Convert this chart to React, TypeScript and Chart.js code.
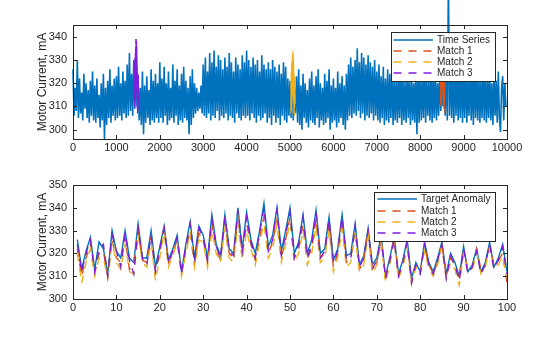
import { useEffect, useRef } from 'react';
import { Chart, registerables } from 'chart.js';

Chart.register(...registerables);

// ---------- data ----------
// Long time series (one value every 25 samples), motor current in mA
const timeSeriesStep = 25;
const timeSeries = [
  326,306,318,308,330,305,322,307,316,304,324,309,320,305,317,303,321,306,325,304,
  319,303,322,305,315,301,320,304,324,296,318,302,321,305,326,303,319,306,322,304,
  323,305,327,306,320,304,325,307,321,305,328,306,333,308,324,306,330,309,329,310,
  322,304,318,302,325,298,319,303,323,305,317,302,326,304,321,303,324,305,320,303,
  329,305,322,303,327,306,320,302,325,304,318,305,328,303,321,306,326,302,319,304,
  324,303,327,305,321,304,318,298,323,302,326,305,320,307,318,308,316,309,319,307,
  328,306,331,305,325,307,333,304,329,306,334,305,327,308,332,304,330,306,326,305,
  331,307,327,304,333,306,329,305,325,303,331,307,328,305,326,304,332,306,329,305,
  334,306,330,304,327,307,331,305,328,303,330,306,325,304,332,305,328,307,326,303,
  329,305,326,302,330,306,327,303,325,305,328,302,324,306,329,304,327,303,322,306,
  321,305,325,304,318,307,323,303,326,302,319,300,324,305,320,303,317,301,322,304,
  325,303,319,302,323,305,326,301,320,304,318,302,324,303,321,305,326,300,319,303,
  322,304,318,301,325,303,320,305,323,302,319,300,324,304,328,306,331,305,327,307,
  330,306,335,308,329,305,333,307,331,304,328,306,332,305,329,307,327,304,330,306,
  325,304,328,303,323,305,327,302,322,304,326,303,324,305,328,302,321,304,325,303,
  323,305,327,302,324,304,321,303,326,305,322,302,325,304,320,303,327,298,324,303,
  326,304,322,305,328,303,324,306,321,304,327,303,323,305,326,304,320,306,325,308,
  322,310,318,306,328,304,365,306,329,305,326,303,330,306,327,304,325,305,329,303,
  324,305,328,303,322,306,327,304,325,302,329,305,323,304,326,303,321,305,328,304,
  325,303,322,305,327,304,320,302,324,306,321,303,325,305,299,318,323,304,320,310,
];

// Start index of each match in the long series: Match 1, Match 2, Match 3
const matchStarts = [8470, 5020, 1410];

// 100-sample windows
const targetAnomaly = [
  326,313,321,327,313,325,322,311,330,321,
  318,330,318,316,333,318,318,330,314,323,
  332,317,322,328,312,324,334,318,332,328,
  318,337,324,319,337,322,320,340,322,338,
  326,320,330,342,323,328,340,321,330,340,
  320,325,337,320,326,339,320,322,336,317,
  322,337,319,320,333,315,319,331,315,318,
  328,310,318,327,311,317,326,309,316,312,
  325,316,312,318,325,311,320,316,310,323,
  312,315,322,312,316,325,314,318,324,312,
];
const match1 = [
  322,310,318,324,311,320,321,310,326,318,
  316,327,313,315,330,317,316,327,312,320,
  332,316,320,326,311,322,330,315,329,326,
  316,333,322,317,334,320,318,336,320,333,
  324,317,327,336,320,325,335,318,326,336,
  318,322,333,318,322,335,318,320,333,314,
  320,334,316,318,330,313,317,330,313,316,
  326,310,317,327,311,316,324,309,315,312,
  323,315,311,316,324,310,318,315,309,321,
  313,314,322,313,315,323,315,317,320,307,
];
const match2 = [
  320,307,316,322,310,318,318,309,325,316,
  313,324,312,311,328,316,314,325,308,318,
  329,314,319,325,310,320,329,314,326,325,
  314,330,320,316,331,318,316,333,317,330,
  322,315,325,333,318,322,333,316,324,334,
  316,320,330,315,320,332,316,318,330,312,
  318,331,314,316,328,312,315,328,311,315,
  325,307,315,325,309,314,322,307,314,311,
  321,313,310,315,323,309,316,313,306,320,
  312,313,320,311,314,322,313,315,319,309,
];
const match3 = [
  324,312,320,326,312,322,324,310,328,321,
  314,329,317,311,331,318,315,328,312,322,
  331,316,321,327,311,323,333,316,331,327,
  317,335,323,318,336,321,319,339,321,336,
  325,318,329,340,321,326,339,319,328,338,
  318,324,336,318,324,338,318,321,335,316,
  321,336,317,318,332,314,318,330,313,317,
  327,309,317,326,310,316,325,307,315,311,
  324,315,311,317,324,309,319,315,308,322,
  311,314,321,311,315,324,313,317,323,311,
];

const topLabels = ['Time Series', 'Match 1', 'Match 2', 'Match 3'];
const bottomLabels = ['Target Anomaly', 'Match 1', 'Match 2', 'Match 3'];
const yTitle = 'Motor Current, mA';

// ---------- styles ----------
const BLUE = '#0072BD';
const ORANGE = '#D95319';
const YELLOW = '#EDB120';
const PURPLE = '#7F1FD9';
const AXIS = '#262626';
const FONT = '"Liberation Sans", Arial, Helvetica, sans-serif';
const DASH = [8, 7];
const SERIES_COLORS = [BLUE, ORANGE, YELLOW, PURPLE];
const SERIES_DASHED = [false, true, true, true];

const axesBoxPlugin = {
  id: 'axesBox',
  afterDatasetsDraw(chart: any) {
    const { ctx, chartArea } = chart;
    const { left, right, top, bottom } = chartArea;
    const xs = chart.scales.x;
    const ys = chart.scales.y;
    const L = 4;
    ctx.save();
    ctx.strokeStyle = AXIS;
    ctx.lineWidth = 1;
    ctx.setLineDash([]);
    ctx.beginPath();
    xs.ticks.forEach((t: any) => {
      const px = Math.round(xs.getPixelForValue(t.value)) + 0.5;
      ctx.moveTo(px, bottom);
      ctx.lineTo(px, bottom - L);
      ctx.moveTo(px, top);
      ctx.lineTo(px, top + L);
    });
    ys.ticks.forEach((t: any) => {
      const py = Math.round(ys.getPixelForValue(t.value)) + 0.5;
      ctx.moveTo(left, py);
      ctx.lineTo(left + L, py);
      ctx.moveTo(right, py);
      ctx.lineTo(right - L, py);
    });
    ctx.stroke();
    ctx.strokeRect(Math.round(left) + 0.5, Math.round(top) + 0.5, Math.round(right - left), Math.round(bottom - top));
    ctx.restore();
  },
};

function makeLegendPlugin(labels: string[], box: any) {
  return {
    id: 'boxLegend',
    afterDraw(chart: any) {
      const { ctx } = chart;
      const { x, y, w, h, rowY, rowH, lineX0, lineX1, textX } = box;
      ctx.save();
      ctx.fillStyle = '#ffffff';
      ctx.fillRect(x, y, w, h);
      ctx.strokeStyle = AXIS;
      ctx.lineWidth = 1;
      ctx.setLineDash([]);
      ctx.strokeRect(x + 0.5, y + 0.5, w, h);
      labels.forEach((label, i) => {
        const cy = Math.round(rowY + i * rowH);
        ctx.strokeStyle = SERIES_COLORS[i];
        ctx.lineWidth = 1.5;
        ctx.setLineDash(SERIES_DASHED[i] ? DASH : []);
        ctx.beginPath();
        ctx.moveTo(lineX0, cy);
        ctx.lineTo(lineX1, cy);
        ctx.stroke();
        ctx.setLineDash([]);
        ctx.fillStyle = AXIS;
        ctx.font = `10px ${FONT}`;
        ctx.textBaseline = 'middle';
        ctx.textAlign = 'left';
        ctx.fillText(label, textX, cy + 0.5);
      });
      ctx.restore();
    },
  };
}

function axisX(min: number, max: number, step: number, height: number) {
  return {
    type: 'linear',
    min,
    max,
    grid: { display: false, drawTicks: false },
    border: { display: false },
    ticks: {
      stepSize: step,
      includeBounds: false,
      autoSkip: false,
      maxRotation: 0,
      padding: 2.5,
      color: AXIS,
      font: { family: FONT, size: 11 },
      callback: (v: any) => String(v),
    },
    afterFit: (s: any) => {
      s.height = height;
    },
  };
}

function axisY(min: number, max: number, step: number) {
  return {
    type: 'linear',
    min,
    max,
    grid: { display: false, drawTicks: false },
    border: { display: false },
    title: {
      display: true,
      text: yTitle,
      color: AXIS,
      font: { family: FONT, size: 12 },
      padding: { top: 35, bottom: 0 },
    },
    ticks: {
      stepSize: step,
      includeBounds: false,
      padding: 6,
      color: AXIS,
      font: { family: FONT, size: 11 },
      callback: (v: any) => String(v),
    },
    afterFit: (s: any) => {
      s.width = 73;
    },
  };
}

function lineDs(label: string, pts: any[], color: string, dashed: boolean, order: number, width: number, clip?: boolean) {
  const ds: any = {
    label,
    data: pts,
    borderColor: color,
    backgroundColor: color,
    borderWidth: width,
    borderDash: dashed ? DASH : [],
    pointRadius: 0,
    fill: false,
    tension: 0,
    order,
  };
  if (clip === false) ds.clip = false;
  return ds;
}

export default function App() {
  const topRef = useRef<HTMLCanvasElement>(null);
  const botRef = useRef<HTMLCanvasElement>(null);

  useEffect(() => {
    document.body.style.margin = '0';
    const matches = [match1, match2, match3];

    const topDatasets = [
      lineDs(topLabels[0], timeSeries.map((v, i) => ({ x: i * timeSeriesStep, y: v })), BLUE, false, 4, 1.6, false),
      ...matches.map((m, k) =>
        lineDs(topLabels[k + 1], m.map((v, i) => ({ x: matchStarts[k] + i, y: v })), SERIES_COLORS[k + 1], true, 3 - k, 1.2)
      ),
    ];
    const botDatasets = [
      lineDs(bottomLabels[0], targetAnomaly.map((v, i) => ({ x: i + 1, y: v })), BLUE, false, 4, 1.4),
      ...matches.map((m, k) =>
        lineDs(bottomLabels[k + 1], m.map((v, i) => ({ x: i + 1, y: v })), SERIES_COLORS[k + 1], true, 3 - k, 1.4)
      ),
    ];

    const top = new Chart(topRef.current as HTMLCanvasElement, {
      type: 'line',
      data: { datasets: topDatasets },
      options: {
        animation: false,
        responsive: false,
        devicePixelRatio: 1,
        layout: { padding: { left: 0, right: 53, top: 25, bottom: 0 } },
        scales: {
          x: axisX(0, 10000, 1000, 26) as any,
          y: axisY(296, 345, 10) as any,
        },
        plugins: {
          legend: { display: false },
          tooltip: { enabled: false },
        } as any,
      },
      plugins: [
        axesBoxPlugin,
        makeLegendPlugin(topLabels, { x: 391, y: 32, w: 104, h: 49, rowY: 39.8, rowH: 11.2, lineX0: 393.5, lineX1: 433, textX: 437 }),
      ],
    } as any);

    const bot = new Chart(botRef.current as HTMLCanvasElement, {
      type: 'line',
      data: { datasets: botDatasets },
      options: {
        animation: false,
        responsive: false,
        devicePixelRatio: 1,
        layout: { padding: { left: 0, right: 53, top: 20, bottom: 0 } },
        scales: {
          x: axisX(0, 100, 10, 38) as any,
          y: axisY(300, 350, 10) as any,
        },
        plugins: {
          legend: { display: false },
          tooltip: { enabled: false },
        } as any,
      },
      plugins: [
        axesBoxPlugin,
        makeLegendPlugin(bottomLabels, { x: 374, y: 27, w: 121, h: 49, rowY: 34.3, rowH: 11.3, lineX0: 377.5, lineX1: 417, textX: 421 }),
      ],
    } as any);

    return () => {
      top.destroy();
      bot.destroy();
    };
  }, []);

  return (
    <div style={{ position: 'relative', width: 560, height: 337, background: '#ffffff' }}>
      <canvas ref={topRef} width={560} height={165} style={{ position: 'absolute', left: 0, top: 0, display: 'block' }} />
      <canvas ref={botRef} width={560} height={172} style={{ position: 'absolute', left: 0, top: 165, display: 'block' }} />
    </div>
  );
}
